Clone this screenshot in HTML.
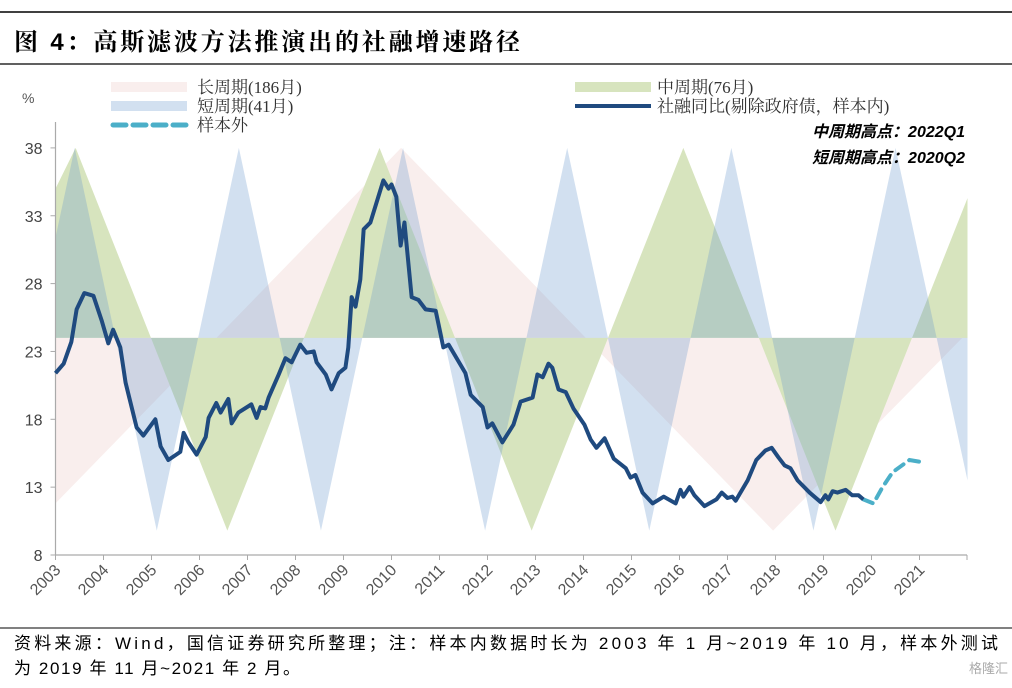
<!DOCTYPE html>
<html><head><meta charset="utf-8"><style>
body{margin:0;background:#fff;width:1012px;height:683px;overflow:hidden;font-family:"Liberation Sans","Noto Sans CJK SC",sans-serif}
</style></head><body>
<svg id="chart" width="1012" height="683" viewBox="0 0 1012 683" xmlns="http://www.w3.org/2000/svg">
<line x1="0" y1="12" x2="1012" y2="12" stroke="#000" stroke-width="1.5"/>
<text x="14" y="50" font-size="24" font-weight="bold" textLength="506" lengthAdjust="spacing" font-family="'Liberation Sans','Noto Serif CJK SC',serif" fill="#000">图 4：高斯滤波方法推演出的社融增速路径</text>
<line x1="0" y1="64" x2="1012" y2="64" stroke="#000" stroke-width="1.2"/>
<g id="waves"></g>
<g id="axes"></g>
<g id="lines"></g>
<text x="22" y="103" font-size="14" fill="#555">%</text>
<g font-family="'Liberation Serif','Noto Serif CJK SC',serif" font-size="17" fill="#333">
 <g><rect x="111" y="82" width="76" height="10" fill="#f9eeed"/><text x="197" y="93">长周期(186月)</text></g>
 <g><rect x="111" y="101" width="76" height="10" fill="#d2e0f0"/><text x="197" y="112">短周期(41月)</text></g>
 <g><line x1="113" y1="125" x2="187" y2="125" stroke="#4bafc8" stroke-width="5" stroke-dasharray="13,7" stroke-linecap="round"/><text x="197" y="131">样本外</text></g>
 <g><rect x="575" y="82" width="76" height="10" fill="#d7e4be"/><text x="657" y="93">中周期(76月)</text></g>
 <g><line x1="575" y1="106" x2="651" y2="106" stroke="#1f4a7f" stroke-width="4"/><text x="657" y="112">社融同比(剔除政府债，样本内)</text></g>
</g>
<text x="965" y="137" text-anchor="end" font-size="16" font-weight="bold" font-style="italic" font-family="'Liberation Sans','Noto Sans CJK SC',sans-serif">中周期高点：2022Q1</text>
<text x="965" y="163" text-anchor="end" font-size="16" font-weight="bold" font-style="italic" font-family="'Liberation Sans','Noto Sans CJK SC',sans-serif">短周期高点：2020Q2</text>
<line x1="0" y1="628" x2="1012" y2="628" stroke="#000" stroke-width="1"/>
<text x="14" y="649" font-size="17" textLength="984" lengthAdjust="spacing" fill="#000">资料来源：Wind，国信证券研究所整理；注：样本内数据时长为 2003 年 1 月~2019 年 10 月，样本外测试</text>
<text x="14" y="674" font-size="17" textLength="286" lengthAdjust="spacing" fill="#000">为 2019 年 11 月~2021 年 2 月。</text>
<text x="1008" y="673" text-anchor="end" font-size="13" fill="#aaa">格隆汇</text>
</svg>
<script>
const yTicks=[8,13,18,23,28,33,38];
const xYears=[2003,2004,2005,2006,2007,2008,2009,2010,2011,2012,2013,2014,2015,2016,2017,2018,2019,2020,2021];
const waveBase=24;
const longDates=[2003.0,2010.2,2017.95,2022.0];
const longVals=[11.8,38,9.8,24.4];
const midDates=[2003.0,2003.42,2006.58,2009.75,2012.92,2016.08,2019.25,2022.0];
const midVals=[35,38,9.8,38,9.8,38,9.8,34.3];
const shortDates=[2003.0,2003.4,2005.11,2006.82,2008.53,2010.24,2011.95,2013.66,2015.37,2017.08,2018.79,2020.5,2022.0];
const shortVals=[31.4,38,9.8,38,9.8,38,9.8,38,9.8,38,9.8,38,13.5];
const inDates=[2003.0,2003.17,2003.33,2003.44,2003.6,2003.79,2003.96,2004.1,2004.2,2004.35,2004.46,2004.69,2004.83,2005.08,2005.19,2005.35,2005.6,2005.67,2005.77,2005.94,2006.13,2006.19,2006.35,2006.44,2006.6,2006.67,2006.81,2007.08,2007.19,2007.27,2007.37,2007.44,2007.65,2007.79,2007.92,2008.1,2008.23,2008.38,2008.44,2008.63,2008.75,2008.9,2009.04,2009.1,2009.17,2009.25,2009.35,2009.42,2009.56,2009.83,2009.94,2010.0,2010.1,2010.19,2010.27,2010.42,2010.56,2010.71,2010.92,2011.08,2011.19,2011.54,2011.65,2011.9,2012.0,2012.1,2012.31,2012.54,2012.69,2012.94,2013.04,2013.15,2013.27,2013.35,2013.48,2013.63,2013.79,2014.02,2014.15,2014.27,2014.44,2014.63,2014.88,2014.98,2015.08,2015.23,2015.44,2015.67,2015.92,2016.02,2016.08,2016.21,2016.31,2016.52,2016.77,2016.88,2017.0,2017.1,2017.17,2017.42,2017.6,2017.79,2017.92,2018.06,2018.19,2018.31,2018.46,2018.71,2018.94,2019.04,2019.1,2019.19,2019.29,2019.46,2019.6,2019.73,2019.83];
const inVals=[21.4,22.1,23.7,26.1,27.3,27.1,25.3,23.6,24.6,23.3,20.7,17.4,16.8,18.0,16.0,15.0,15.6,17.0,16.3,15.4,16.7,18.1,19.2,18.5,19.5,17.7,18.5,19.1,18.1,18.9,18.8,19.6,21.3,22.5,22.2,23.5,22.9,23.0,22.2,21.3,20.2,21.4,21.8,23.3,27.0,26.3,28.3,32.0,32.5,35.6,35.0,35.3,34.4,30.8,32.5,27.0,26.8,26.1,26.0,23.3,23.5,21.4,19.8,18.9,17.4,17.7,16.3,17.6,19.3,19.6,21.3,21.1,22.1,21.8,20.2,20.0,18.8,17.6,16.5,15.9,16.6,15.1,14.4,13.7,13.9,12.6,11.8,12.3,11.8,12.8,12.3,13.0,12.4,11.6,12.1,12.6,12.2,12.3,12.0,13.5,15.0,15.7,15.9,15.2,14.6,14.4,13.5,12.6,11.9,12.4,12.1,12.7,12.6,12.8,12.4,12.4,12.1];
const outDates=[2019.83,2020.04,2020.23,2020.44,2020.79,2021.13];
const outVals=[12.1,11.8,13.0,14.1,15.0,14.8];

const NS='http://www.w3.org/2000/svg';
const X0=55.5,PX=48,Y0=555,PY=13.57;
function sx(yr){return X0+(yr-2003)*PX;}
function sy(v){return Y0-(v-8)*PY;}
function mk(tag,attrs,parent){const e=document.createElementNS(NS,tag);for(const k in attrs)e.setAttribute(k,attrs[k]);parent.appendChild(e);return e;}
const waves=document.getElementById('waves'),axes=document.getElementById('axes'),lines=document.getElementById('lines');

function wave(dates,vals,color,opacity,name){
  let d='M'+sx(dates[0])+','+sy(waveBase);
  dates.forEach((t,i)=>{d+=' L'+sx(t)+','+sy(vals[i]);});
  d+=' L'+sx(dates[dates.length-1])+','+sy(waveBase)+' Z';
  const p=mk('path',{d:d,fill:color,'fill-opacity':opacity},waves);
  
  
}
wave(longDates,longVals,'#f9eeed',1,'long-cycle-wave');
wave(midDates,midVals,'#d7e4be',1,'mid-cycle-wave');
wave(shortDates,shortVals,'#6998cd',0.3,'short-cycle-wave');

const ya=mk('line',{x1:X0,y1:122,x2:X0,y2:Y0,stroke:'#aaa','stroke-width':1.2},axes);


const xa=mk('line',{x1:X0,y1:Y0,x2:967,y2:Y0,stroke:'#aaa','stroke-width':1.2},axes);


yTicks.forEach(v=>{
  mk('line',{x1:X0-5,y1:sy(v),x2:X0,y2:sy(v),stroke:'#aaa'},axes);
  const t=mk('text',{x:X0-13,y:sy(v)+6,'text-anchor':'end','font-size':16,fill:'#444'},axes);
  t.textContent=v;
  
  
});
xYears.forEach(yr=>{
  const x=sx(yr);
  mk('line',{x1:x,y1:Y0,x2:x,y2:Y0+5,stroke:'#aaa'},axes);
  const t=mk('text',{x:x+6,y:Y0+16,'text-anchor':'end','font-size':16,fill:'#555',transform:'rotate(-45 '+(x+6)+' '+(Y0+16)+')'},axes);
  t.textContent=yr;
  
  
});
mk('line',{x1:967,y1:Y0,x2:967,y2:Y0+5,stroke:'#aaa'},axes);

function poly(dates,vals){return dates.map((t,i)=>sx(t)+','+sy(vals[i])).join(' ');}
const ol=mk('polyline',{points:poly(outDates,outVals),fill:'none',stroke:'#4bafc8','stroke-width':4,'stroke-dasharray':'10,7','stroke-linecap':'round'},lines);


const il=mk('polyline',{points:poly(inDates,inVals),fill:'none',stroke:'#1f4a7f','stroke-width':4,'stroke-linejoin':'round'},lines);


</script>
</body></html>
